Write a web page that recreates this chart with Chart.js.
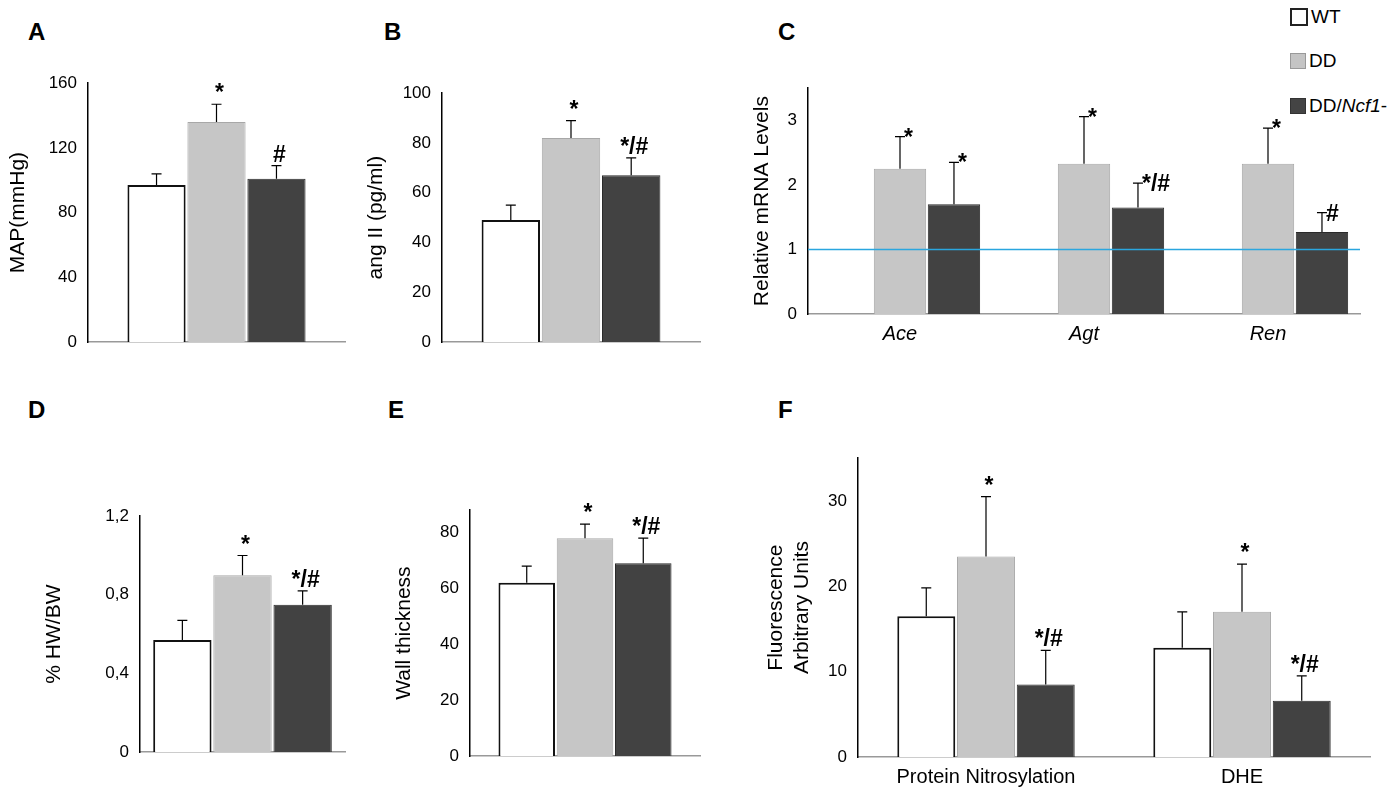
<!DOCTYPE html>
<html><head><meta charset="utf-8">
<script src="https://cdn.jsdelivr.net/npm/chart.js@4.4.1/dist/chart.umd.min.js"></script>
<style>
body{margin:0;background:#fff;font-family:"Liberation Sans",Arial,sans-serif;}
.box{position:absolute;}
.lt{position:absolute;font-weight:bold;font-size:24px;}
.lg{position:absolute;font-size:19px;display:flex;align-items:center;}
.sq{width:14px;height:14px;margin-right:3px;border:1px solid #333;}
</style></head><body>
<div style="position:relative;width:1399px;height:800px">
<div class="lt" style="left:28px;top:18px">A</div>
<div class="lt" style="left:384px;top:18px">B</div>
<div class="lt" style="left:778px;top:18px">C</div>
<div class="lt" style="left:28px;top:396px">D</div>
<div class="lt" style="left:388px;top:396px">E</div>
<div class="lt" style="left:778px;top:396px">F</div>
<div class="lg" style="left:1290px;top:6px"><div class="sq" style="background:#fff;border:2px solid #222"></div>WT</div>
<div class="lg" style="left:1290px;top:50px"><div class="sq" style="background:#c4c4c4;border-color:#999"></div>DD</div>
<div class="lg" style="left:1290px;top:95px"><div class="sq" style="background:#444"></div>DD/<i>Ncf1</i>-</div>
</div>
<script>
// ---- data ----
const seriesNames=["WT","DD","DD/Ncf1-"];
const aCats=[""],aWT=[97],aDD=[136],aNcf=[101],aErrWT=[7],aErrDD=[11],aErrNcf=[8],aMarks=[["","*","#"]];
const bCats=[""],bWT=[49],bDD=[82],bNcf=[67],bErrWT=[6],bErrDD=[7],bErrNcf=[7],bMarks=[["","*","*/#"]];
const cCats=["Ace","Agt","Ren"],cWT=[null,null,null],cDD=[2.25,2.33,2.33],cNcf=[1.7,1.65,1.27],cErrWT=[0,0,0],cErrDD=[0.5,0.73,0.55],cErrNcf=[0.65,0.38,0.3],cMarks=[["","*","*"],["","*","*/#"],["","*","#"]];
const dCats=[""],dWT=[0.57],dDD=[0.9],dNcf=[0.75],dErrWT=[0.1],dErrDD=[0.1],dErrNcf=[0.07],dMarks=[["","*","*/#"]];
const eCats=[""],eWT=[62],eDD=[78],eNcf=[69],eErrWT=[6],eErrDD=[5],eErrNcf=[9],eMarks=[["","*","*/#"]];
const fCats=["Protein Nitrosylation","DHE"],fWT=[16.5,12.8],fDD=[23.5,17],fNcf=[8.5,6.6],fErrWT=[3.3,4.2],fErrDD=[7,5.6],fErrNcf=[4,2.9],fMarks=[["","*","*/#"],["","*","*/#"]];

const fills=["#ffffff","#c6c6c6","#424242"],borders=["#111","#a8a8a8","#2a2a2a"],bw=[2,1,1];
const errPlugin={id:'err',afterDatasetsDraw(ch,a,o){
  const c=ch.ctx,y=ch.scales.y,o2=ch.options.plugins.err;
  ch.data.datasets.forEach((ds,i)=>{
    ch.getDatasetMeta(i).data.forEach((b,j)=>{
      const v=ds.data[j]; if(v==null)return;
      const e=o2.errs[i][j], yt=y.getPixelForValue(v+e);
      c.save();c.strokeStyle='#000';c.lineWidth=1.2;c.beginPath();
      if(e>0){c.moveTo(b.x,b.y);c.lineTo(b.x,yt);c.moveTo(b.x-5,yt);c.lineTo(b.x+5,yt);}c.stroke();
      const m=o2.marks[j][i];
      if(m){c.fillStyle='#000';c.font='bold 23px "Liberation Sans",Arial';
        if(o2.side){c.textAlign='left';c.fillText(m,b.x+4,yt+8);}
        else{c.textAlign='center';c.fillText(m,b.x+3,yt-4);}}
      c.restore();
    });
  });
  if(o2.hline!=null){const yy=y.getPixelForValue(o2.hline);c.save();c.strokeStyle='#2aa6df';c.lineWidth=1.5;c.beginPath();c.moveTo(ch.chartArea.left,yy);c.lineTo(ch.chartArea.right,yy);c.stroke();c.restore();}
}};
Chart.register(errPlugin);
function mk(p){
  const W=p.W||80,Hx=p.cats[0]?42:14;
  const d=document.createElement('div');d.className='box';
  d.style.left=(p.l-W)+'px';d.style.top=(p.t-10)+'px';
  d.style.width=(p.r-p.l+W+10)+'px';d.style.height=(p.b-p.t+10+Hx)+'px';
  const cv=document.createElement('canvas');d.appendChild(cv);document.body.firstElementChild.appendChild(d);
  new Chart(cv,{type:'bar',data:{labels:p.cats,datasets:p.vals.map((v,i)=>({label:seriesNames[i],data:v,backgroundColor:fills[i],borderColor:borders[i],borderWidth:bw[i],borderSkipped:'bottom',categoryPercentage:p.cp,barPercentage:0.97}))},
  options:{responsive:true,maintainAspectRatio:false,animation:false,layout:{padding:{top:10,right:10,left:0,bottom:0}},
   plugins:{legend:{display:false},tooltip:{enabled:false},err:{errs:p.errs,marks:p.marks,side:p.side,hline:p.hline}},
   scales:{x:{grid:{display:false,drawTicks:false},border:{color:'#999',width:1.5},ticks:{display:!!p.cats[0],color:'#000',padding:8,font:{size:20,style:p.italic?'italic':'normal',family:'"Liberation Sans",Arial'}},afterFit(s){s.height=Hx;}},
    y:{min:0,max:p.max,grid:{display:false},border:{color:'#000',width:1.5},ticks:{stepSize:p.step,color:'#000',font:{size:17,family:'"Liberation Sans",Arial'},callback:p.fmt||(v=>v)},
     title:{display:true,text:p.title,color:'#000',font:{size:21,family:'"Liberation Sans",Arial'},padding:2},afterFit(s){s.width=W;}}}}});
}
mk({l:88,r:345,t:80,b:342,cats:aCats,vals:[aWT,aDD,aNcf],errs:[aErrWT,aErrDD,aErrNcf],marks:aMarks,max:160,step:40,title:"MAP(mmHg)",cp:0.7,W:84});
mk({l:442,r:700,t:90,b:342,cats:bCats,vals:[bWT,bDD,bNcf],errs:[bErrWT,bErrDD,bErrNcf],marks:bMarks,max:100,step:20,title:"ang II (pg/ml)",cp:0.7,W:80});
mk({l:808,r:1360,t:85,b:314,cats:cCats,vals:[cWT,cDD,cNcf],errs:[cErrWT,cErrDD,cErrNcf],marks:cMarks,max:3.5,step:1,title:"Relative mRNA Levels",cp:0.88,W:60,side:true,hline:1,italic:true,fmt:v=>Number.isInteger(v)?v:''});
mk({l:140,r:345,t:513,b:752,cats:dCats,vals:[dWT,dDD,dNcf],errs:[dErrWT,dErrDD,dErrNcf],marks:dMarks,max:1.2,step:0.4,title:"% HW/BW",cp:0.88,W:100,fmt:v=>String(Math.round(v*10)/10).replace('.',',')});
mk({l:470,r:700,t:507,b:756,cats:eCats,vals:[eWT,eDD,eNcf],errs:[eErrWT,eErrDD,eErrNcf],marks:eMarks,max:88,step:20,title:"Wall thickness",cp:0.76,W:80,fmt:v=>v%20===0?v:''});
mk({l:858,r:1370,t:455,b:757,cats:fCats,vals:[fWT,fDD,fNcf],errs:[fErrWT,fErrDD,fErrNcf],marks:fMarks,max:35,step:10,title:["Fluorescence","Arbitrary Units"],cp:0.7,W:96,fmt:v=>v%10===0?v:''});
</script></body></html>
